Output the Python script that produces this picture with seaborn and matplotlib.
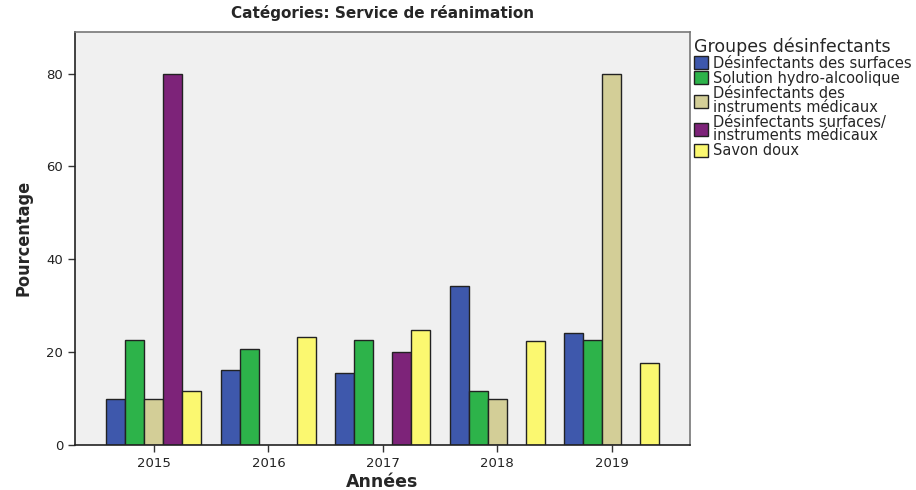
import matplotlib
matplotlib.use("Agg")
import matplotlib.pyplot as plt
import seaborn as sns
import pandas as pd
import numpy as np

years = ["2015", "2016", "2017", "2018", "2019"]
groups = ["Désinfectants des surfaces", "Solution hydro-alcoolique",
          "Désinfectants des\ninstruments médicaux",
          "Désinfectants surfaces/\ninstruments médicaux", "Savon doux"]
surfaces = [10.0, 16.2, 15.5, 34.2, 24.1]
hydro = [22.5, 20.6, 22.5, 11.6, 22.5]
instruments = [10.0, np.nan, np.nan, 10.0, 80.0]
surf_instr = [80.0, np.nan, 20.0, np.nan, np.nan]
savon = [11.6, 23.3, 24.8, 22.4, 17.7]
colors = ["#3E58AC", "#2DB34A", "#D3CE97", "#7D2379", "#FBF870"]

series = [surfaces, hydro, instruments, surf_instr, savon]
rows = []
for g, vals in zip(groups, series):
    for y, v in zip(years, vals):
        if not np.isnan(v):
            rows.append({"Années": y, "Groupe": g, "Pourcentage": v})
df = pd.DataFrame(rows)

sns.set_style("white")
plt.rcParams['font.family'] = ['DejaVu Sans']

fig = plt.figure(figsize=(9.16, 4.9), dpi=100)
ax = fig.add_axes([0.0819, 0.092, 0.671, 0.843])
ax.set_facecolor("#F0F0F0")

sns.barplot(data=df, x="Années", y="Pourcentage", hue="Groupe",
            order=years, hue_order=groups, palette=colors,
            width=0.83, edgecolor="#222222", linewidth=1.0,
            saturation=1, errorbar=None, ax=ax)

ax.set_xlim(-0.69, 4.68)
ax.set_ylim(0, 89)
ax.set_yticks([0, 20, 40, 60, 80])
ax.tick_params(axis="both", which="both", length=5, width=1, colors="#333333",
               labelsize=9.5, direction="out", left=True, bottom=True)
for lab in ax.get_xticklabels() + ax.get_yticklabels():
    lab.set_color("#222222")
for s in ["top", "right"]:
    ax.spines[s].set_color("#777777")
    ax.spines[s].set_linewidth(1.2)
for s in ["left", "bottom"]:
    ax.spines[s].set_color("#222222")
    ax.spines[s].set_linewidth(1.2)

ax.set_xlabel("Années", fontsize=12.5, fontweight="bold", labelpad=2)
ax.set_ylabel("Pourcentage", fontsize=13, fontweight="bold", labelpad=10,
              fontstretch="condensed")
ax.set_title("Catégories: Service de réanimation", fontsize=11,
             fontweight="bold", pad=10)

handles, labels = ax.get_legend_handles_labels()
ax.get_legend().remove()
leg = fig.legend(handles, labels, title="Groupes désinfectants",
                 loc="upper left", bbox_to_anchor=(0.754, 0.93),
                 frameon=False, fontsize=10.5, title_fontsize=12.5,
                 handlelength=1.0, handleheight=1.0, handletextpad=0.3,
                 labelspacing=0.0, borderaxespad=0, borderpad=0.2)
leg._legend_box.align = "left"
for t in leg.get_texts():
    t.set_linespacing(0.9)

fig.savefig("out.png", dpi=100)
